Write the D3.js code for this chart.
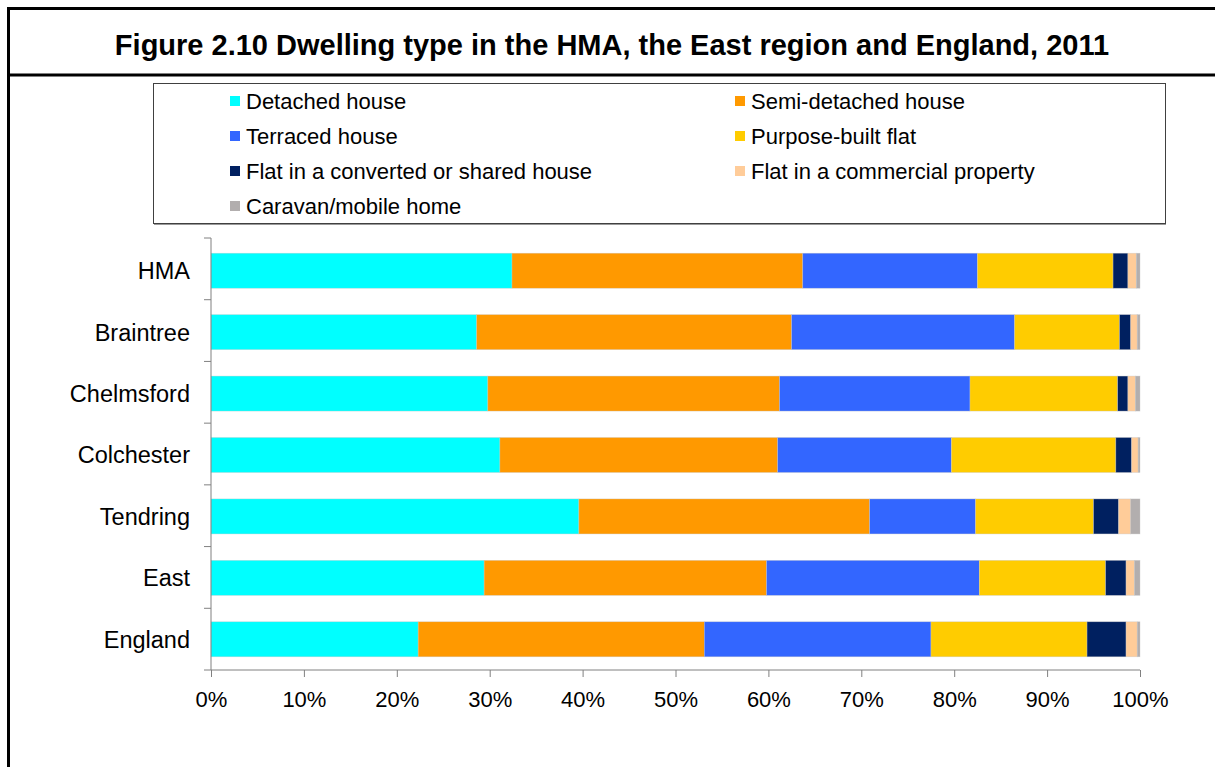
<!DOCTYPE html>
<html>
<head>
<meta charset="utf-8">
<script src="https://cdn.jsdelivr.net/npm/d3@7"></script>
<style>
  body { margin: 0; background: #fff; }
  svg { display: block; font-family: "Liberation Sans", Arial, sans-serif; }
</style>
</head>
<body>
<div id="chart"></div>
<script>
// categories and dwelling types
var areas = ["HMA", "Braintree", "Chelmsford", "Colchester", "Tendring", "East", "England"];
var types = ["Detached house", "Semi-detached house", "Terraced house", "Purpose-built flat",
             "Flat in a converted or shared house", "Flat in a commercial property", "Caravan/mobile home"];
var colours = ["#00ffff", "#ff9900", "#3366ff", "#ffcc00", "#002060", "#ffcc99", "#b2aeae"];

// share of dwellings (%), one array per type, in the order of areas
var detached   = [32.4, 28.6, 29.8, 31.1, 39.6, 29.4, 22.3];
var semi       = [31.3, 33.9, 31.4, 29.9, 31.3, 30.4, 30.8];
var terraced   = [18.8, 24.0, 20.5, 18.7, 11.4, 22.9, 24.4];
var purpose    = [14.6, 11.3, 15.9, 17.7, 12.7, 13.6, 16.8];
var converted  = [1.6, 1.2, 1.1, 1.7, 2.7, 2.2, 4.2];
var commercial = [0.9, 0.7, 0.8, 0.7, 1.3, 0.9, 1.2];
var caravan    = [0.4, 0.3, 0.5, 0.2, 1.0, 0.6, 0.3];
var xTicks = [0, 0.1, 0.2, 0.3, 0.4, 0.5, 0.6, 0.7, 0.8, 0.9, 1];

var series = [detached, semi, terraced, purpose, converted, commercial, caravan];
var rows = areas.map(function(a, i) {
    var r = { area: a };
    types.forEach(function(t, j) { r[t] = series[j][i]; });
    return r;
});

var W = 1215, H = 767;
var svg = d3.select("#chart").append("svg").attr("width", W).attr("height", H);

// outer frame and title band
svg.append("rect").attr("x", 8.5).attr("y", 8.5).attr("width", W + 20).attr("height", H + 20)
    .attr("fill", "none").attr("stroke", "#000").attr("stroke-width", 3);
svg.append("line").attr("x1", 8).attr("x2", W).attr("y1", 75).attr("y2", 75)
    .attr("stroke", "#000").attr("stroke-width", 3);
svg.append("text").attr("x", 612).attr("y", 55).attr("text-anchor", "middle")
    .attr("font-size", 29).attr("font-weight", "bold")
    .text("Figure 2.10 Dwelling type in the HMA, the East region and England, 2011");

// legend
svg.append("rect").attr("x", 153.5).attr("y", 83.5).attr("width", 1012).attr("height", 140)
    .attr("fill", "#fff").attr("stroke", "#404040").attr("stroke-width", 1);
svg.append("line").attr("x1", 154).attr("x2", 1166).attr("y1", 224.5).attr("y2", 224.5)
    .attr("stroke", "#999").attr("stroke-width", 1);
var leg = svg.append("g").selectAll("g").data(types).join("g")
    .attr("transform", function(d, i) {
        return "translate(" + (i % 2 ? 735 : 230) + "," + (101 + Math.floor(i / 2) * 35) + ")";
    });
leg.append("rect").attr("x", 0).attr("y", -5).attr("width", 10).attr("height", 10)
    .attr("fill", function(d, i) { return colours[i]; });
leg.append("text").attr("x", 16).attr("y", 7.5).attr("font-size", 22).text(function(d) { return d; });

// plot
var x = d3.scaleLinear().domain([0, 1]).range([211, 1140]);
var y = d3.scaleBand().domain(areas).range([240, 670]).paddingInner(0.43).paddingOuter(0.215);

var stack = d3.stack().keys(types).offset(d3.stackOffsetExpand);
var layers = stack(rows);

svg.append("g").selectAll("g").data(layers).join("g")
    .attr("fill", function(d, i) { return colours[i]; })
    .selectAll("rect").data(function(d) { return d; }).join("rect")
    .attr("x", function(d) { return x(d[0]); })
    .attr("width", function(d) { return x(d[1]) - x(d[0]); })
    .attr("y", function(d) { return y(d.data.area); })
    .attr("height", y.bandwidth())
    .attr("stroke", "rgba(200,200,200,0.6)").attr("stroke-width", 0.6);

var xAxis = svg.append("g").attr("transform", "translate(0,670)")
    .call(d3.axisBottom(x).tickValues(xTicks).tickFormat(d3.format(".0%")).tickSize(7).tickPadding(14));
xAxis.select(".domain").attr("stroke", "#808080").attr("d", "M211,0H1140");
xAxis.selectAll(".tick line").attr("stroke", "#808080");
xAxis.selectAll("text").attr("font-size", 22).attr("fill", "#000");

// y axis with ticks at band boundaries
var yg = svg.append("g").attr("transform", "translate(211,0)");
yg.append("line").attr("y1", 238).attr("y2", 670).attr("stroke", "#808080");
var bounds = d3.range(areas.length + 1).map(function(i) { return 238 + i * (432 / areas.length); });
yg.selectAll("line.tk").data(bounds).join("line").attr("class", "tk")
    .attr("x1", -7).attr("x2", 0).attr("y1", function(d) { return d; }).attr("y2", function(d) { return d; })
    .attr("stroke", "#808080");
yg.selectAll("text").data(areas).join("text")
    .attr("x", -21).attr("y", function(d) { return y(d) + y.bandwidth() / 2; })
    .attr("dy", "0.36em").attr("text-anchor", "end").attr("font-size", 23.5).text(function(d) { return d; });
</script>
</body>
</html>
